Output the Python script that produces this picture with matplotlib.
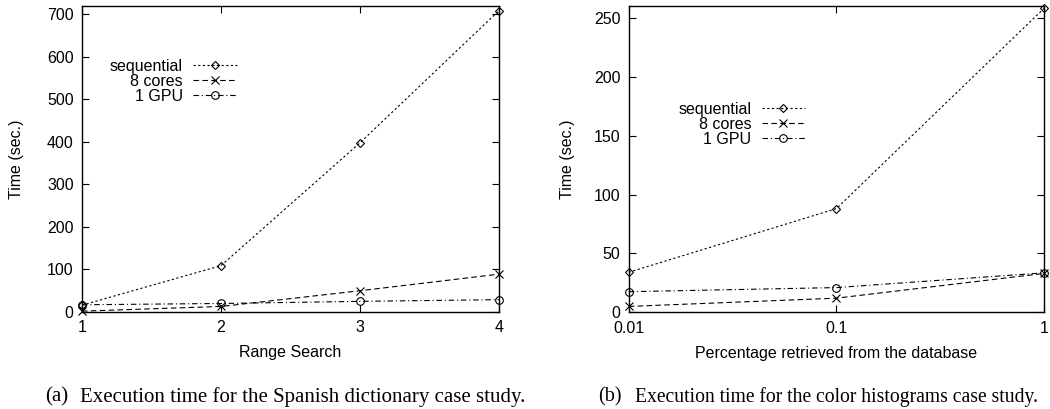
import matplotlib
matplotlib.use("Agg")
import matplotlib.pyplot as plt

# Spanish dictionary: time vs range search radius
rangeSearch = [1, 2, 3, 4]
dictSequential = [16, 109, 398, 709]
dictCores = [2, 13, 50, 89]
dictGpu = [17, 20, 25, 29]

# Color histograms: time vs fraction of database retrieved
retrieved = [0.01, 0.1, 1]
histSequential = [34, 88, 258]
histCores = [5, 12, 33]
histGpu = [17.5, 21, 33.5]

seriesLabels = ["sequential", "8 cores", "1 GPU"]

plt.rcParams["font.family"] = ["Liberation Sans", "DejaVu Sans"]
plt.rcParams["font.size"] = 11.5

STYLES = [
    dict(linestyle=(0, (2, 2.2)), marker="D", markersize=4.5),
    dict(linestyle=(0, (5, 3)), marker="x", markersize=6),
    dict(linestyle=(0, (5, 2.5, 1, 2.5)), marker="o", markersize=5.5),
]


def drawPanel(ax, x, series, xlabel, labelCoords, legendCenter):
    for values, label, style in zip(series, seriesLabels, STYLES):
        ax.plot(x, values, color="black", linewidth=0.8, markerfacecolor="none",
                markeredgewidth=0.8, clip_on=False, label=label, **style)

    ax.tick_params(direction="in", length=5, width=0.8, top=True, right=True)
    ax.tick_params(axis="x", pad=6)
    ax.tick_params(axis="y", pad=6)
    ax.tick_params(which="minor", length=0)
    for spine in ax.spines.values():
        spine.set_linewidth(1.0)

    ax.set_xlabel(xlabel, va="center")
    ax.set_ylabel("Time (sec.)", va="center")
    ax.xaxis.set_label_coords(0.5, labelCoords[1])
    ax.yaxis.set_label_coords(labelCoords[0], 0.5)
    ax.legend(loc="center", bbox_to_anchor=legendCenter, frameon=False,
              markerfirst=False, numpoints=1, handlelength=2.7,
              handletextpad=0.65, labelspacing=0.0, borderpad=0)


fig = plt.figure(figsize=(10.5, 4.09), dpi=100)

axA = fig.add_axes([0.0781, 0.2372, 0.3971, 0.7482])
drawPanel(axA, rangeSearch, [dictSequential, dictCores, dictGpu],
          "Range Search", (-0.156, -0.134), (0.219, 0.753))
axA.set_xlim(1, 4)
axA.set_ylim(0, 720)
axA.set_xticks(rangeSearch)
axA.set_yticks(range(0, 701, 100))

axB = fig.add_axes([0.5988, 0.2364, 0.3955, 0.7489])
drawPanel(axB, retrieved, [histSequential, histCores, histGpu],
          "Percentage retrieved from the database", (-0.1486, -0.134), (0.272, 0.613))
axB.set_xscale("log")
axB.set_xlim(0.01, 1)
axB.set_ylim(0, 260)
axB.set_xticks(retrieved)
axB.set_xticklabels(["0.01", "0.1", "1"])
axB.set_yticks(range(0, 251, 50))

captionY = 1 - 397 / 409
serif = ["Liberation Serif", "DejaVu Serif"]
fig.text(45 / 1050, captionY, "(a)", family=serif, fontsize=15, va="center")
fig.text(80 / 1050, captionY, "Execution time for the Spanish dictionary case study.",
         family=serif, fontsize=15, va="center")
fig.text(598 / 1050, captionY, "(b)", family=serif, fontsize=14.5, va="center")
fig.text(635 / 1050, captionY, "Execution time for the color histograms case study.",
         family=serif, fontsize=14.1, va="center")

fig.savefig("out.png", dpi=100)
